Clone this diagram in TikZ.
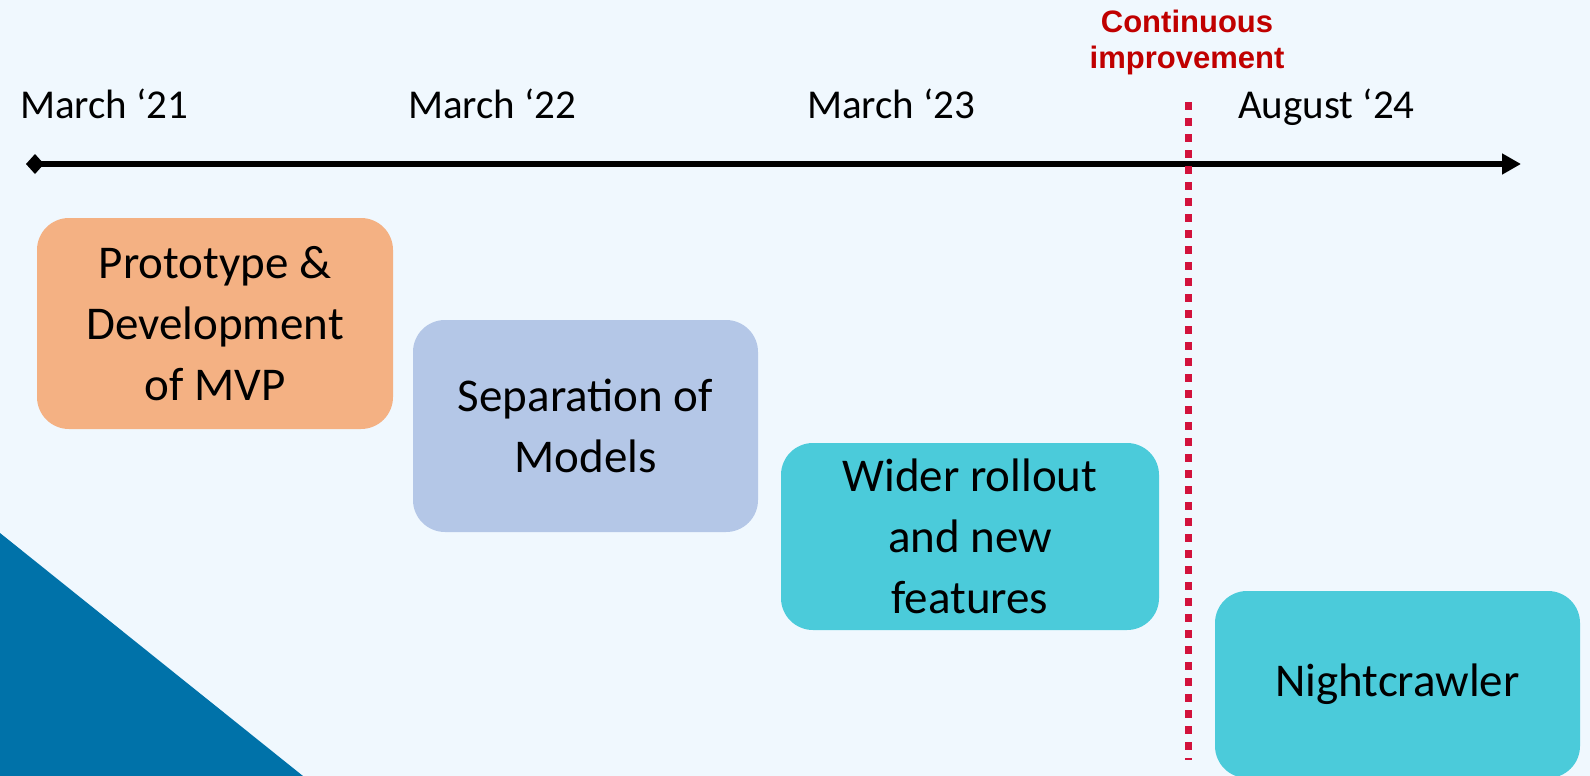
\documentclass[tikz,border=0pt]{standalone}
\usepackage{fontspec}
\setmainfont{Carlito}
\newfontfamily\notefont{Liberation Sans}
\usetikzlibrary{arrows.meta}

\definecolor{pagebg}{RGB}{240,248,254}
\definecolor{cornerblue}{RGB}{0,114,169}
\definecolor{phaseorange}{RGB}{244,177,131}
\definecolor{phaselavender}{RGB}{180,199,231}
\definecolor{phasecyan}{RGB}{75,203,218}
\definecolor{markerred}{RGB}{210,18,60}
\definecolor{notered}{RGB}{192,0,0}

\tikzset{
  phase/.style={rounded corners=32pt, draw=none, inner sep=0pt, align=center,
    font=\fontsize{47pt}{61pt}\selectfont},
  datelabel/.style={anchor=base west, inner sep=0pt,
    font=\fontsize{41pt}{49pt}\selectfont},
  timeline/.style={line width=5.5pt, draw=black,
    {Diamond[length=18pt,width=20pt]}-{Triangle[length=19pt,width=20pt]}},
  milestone/.style={draw=markerred, line width=7pt, line cap=butt,
    dash pattern=on 7.5pt off 8.5pt},
  note/.style={inner sep=0pt, align=center, text=notered,
    font=\notefont\bfseries\fontsize{31pt}{36pt}\selectfont}
}

\begin{document}
\begin{tikzpicture}[x=1pt,y=-1pt]
  % page and corner accent
  \fill[pagebg] (0,0) rectangle (1590,776);
  \useasboundingbox (0,0) rectangle (1590,776);
  \fill[cornerblue] (0,533) -- (303,776) -- (0,776) -- cycle;

  % timeline axis
  \coordinate (axis-start) at (26,164);
  \coordinate (axis-end) at (1521,164);
  \draw[timeline] (axis-start) -- (axis-end);

  % dates
  \node[datelabel] (d21) at (20,118) {March ‘21};
  \node[datelabel] (d22) at (408,118) {March ‘22};
  \node[datelabel] (d23) at (807,118) {March ‘23};
  \node[datelabel] (d24) at (1238,118) {August ‘24};

  % continuous improvement marker
  \coordinate (ci-top) at (1188,102);
  \coordinate (ci-bot) at (1188,760);
  \draw[milestone] (ci-top) -- (ci-bot);
  \node[note, anchor=north] (ci-label) at (1187,9.5) {Continuous\\improvement};

  % project phases
  \node[phase, fill=phaseorange, minimum width=356pt, minimum height=211pt]
    (proto) at (215,323.5) {Prototype \&\\Development\\of MVP};
  \node[phase, fill=phaselavender, minimum width=345pt, minimum height=212pt]
    (separation) at (585.5,426) {Separation of\\Models};
  \node[phase, fill=phasecyan, minimum width=378pt, minimum height=187pt]
    (rollout) at (970,536.5) {Wider rollout\\and new\\features};
  \node[phase, fill=phasecyan, minimum width=365pt, minimum height=187pt]
    (nightcrawler) at (1397.5,684.5) {Nightcrawler};
\end{tikzpicture}
\end{document}
